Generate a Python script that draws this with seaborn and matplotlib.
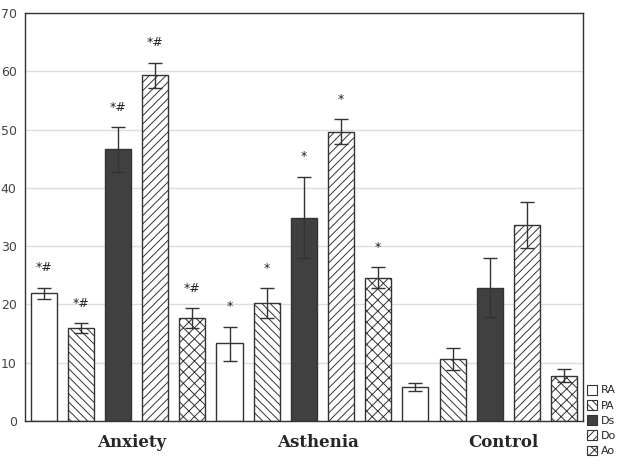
import numpy as np
import pandas as pd
import matplotlib
matplotlib.use('Agg')
import matplotlib.pyplot as plt
from matplotlib.patches import Patch
from matplotlib.transforms import ScaledTranslation
import seaborn as sns

# values
groups = ['Anxiety', 'Asthenia', 'Control']
measures = ['RA', 'PA', 'Ds', 'Do', 'Ao']
anxiety = [22.0, 16.0, 46.7, 59.3, 17.7]
anxiety_lo = [21.0, 15.1, 42.8, 57.2, 15.9]
anxiety_hi = [22.9, 16.8, 50.4, 61.5, 19.4]
asthenia = [13.3, 20.3, 34.9, 49.6, 24.6]
asthenia_lo = [10.3, 17.7, 28.0, 47.5, 22.8]
asthenia_hi = [16.2, 22.8, 41.9, 51.8, 26.4]
control = [5.9, 10.7, 22.9, 33.7, 7.8]
control_lo = [5.2, 8.7, 17.9, 29.7, 6.7]
control_hi = [6.6, 12.6, 28.0, 37.6, 9.0]
marks_anxiety = ['*#', '*#', '*#', '*#', '*#']
marks_asthenia = ['*', '*', '*', '*', '*']
marks_control = ['', '', '', '', '']

rows = []
for g, vals, lo, hi, mk in [('Anxiety', anxiety, anxiety_lo, anxiety_hi, marks_anxiety),
                            ('Asthenia', asthenia, asthenia_lo, asthenia_hi, marks_asthenia),
                            ('Control', control, control_lo, control_hi, marks_control)]:
    for m, v, l, h, k in zip(measures, vals, lo, hi, mk):
        rows.append({'group': g, 'measure': m, 'value': v, 'lo': l, 'hi': h, 'mark': k})
df = pd.DataFrame(rows)

sns.set_style('white')
plt.rcParams['hatch.linewidth'] = 0.7

fills = {'RA': 'white', 'PA': 'white', 'Ds': '#404040', 'Do': 'white', 'Ao': 'white'}
hatches = {'RA': '', 'PA': '\\\\\\\\', 'Ds': '', 'Do': '////', 'Ao': 'xxx'}
edge = '#333333'

fig = plt.figure(figsize=(6.24, 4.68), dpi=100)
ax = fig.add_axes([0.04, 0.1004, 0.894, 0.8718])

sns.barplot(data=df, x='group', y='value', hue='measure', order=groups,
            hue_order=measures, palette=fills, width=1.0, gap=0.3,
            errorbar=None, edgecolor=edge, linewidth=1, legend=False, ax=ax)

# hatches, error bars and significance marks per bar
for i, m in enumerate(measures):
    cont = ax.containers[i]
    sub = df[df['measure'] == m].set_index('group').loc[groups]
    xs = []
    for bar in cont:
        bar.set_hatch(hatches[m])
        bar.set_edgecolor(edge)
        xs.append(bar.get_x() + bar.get_width() / 2)
    xs = np.array(xs)
    v = sub['value'].values
    ax.errorbar(xs, v, yerr=[v - sub['lo'].values, sub['hi'].values - v],
                fmt='none', ecolor='#333333', elinewidth=1, capsize=5, capthick=1, zorder=3)
    for x, h, k in zip(xs, sub['hi'].values, sub['mark'].values):
        if k:
            ax.text(x, h + 3.4, k, ha='center', va='center', fontsize=9, color='#222222')

ax.set_xlim(-0.5, 2.5)
ax.set_ylim(0, 70)
ax.set_yticks(range(0, 71, 10))
ax.yaxis.grid(True, color='#dddddd', linewidth=1)
ax.set_axisbelow(True)
ax.set_xlabel('')
ax.set_ylabel('')
for s in ax.spines.values():
    s.set_color('#333333')
    s.set_linewidth(1)
ax.tick_params(axis='y', length=0, pad=6, labelsize=9, labelcolor='#444444')
ax.tick_params(axis='x', direction='in', length=3, color='#333333', pad=9)
for lab in ax.get_xticklabels():
    lab.set_fontfamily('DejaVu Serif')
    lab.set_fontweight('bold')
    lab.set_fontsize(12)
    lab.set_transform(lab.get_transform() + ScaledTranslation(0.14, 0, fig.dpi_scale_trans))

handles = [Patch(facecolor=fills[m], hatch=hatches[m], edgecolor=edge, linewidth=0.8, label=m)
           for m in measures]
fig.legend(handles=handles, loc='lower left', bbox_to_anchor=(0.94, 0.025),
           frameon=False, fontsize=8, handlelength=0.9, handleheight=1.0,
           handletextpad=0.35, labelspacing=0.4, borderpad=0, borderaxespad=0)

fig.savefig('out.png', dpi=100)
